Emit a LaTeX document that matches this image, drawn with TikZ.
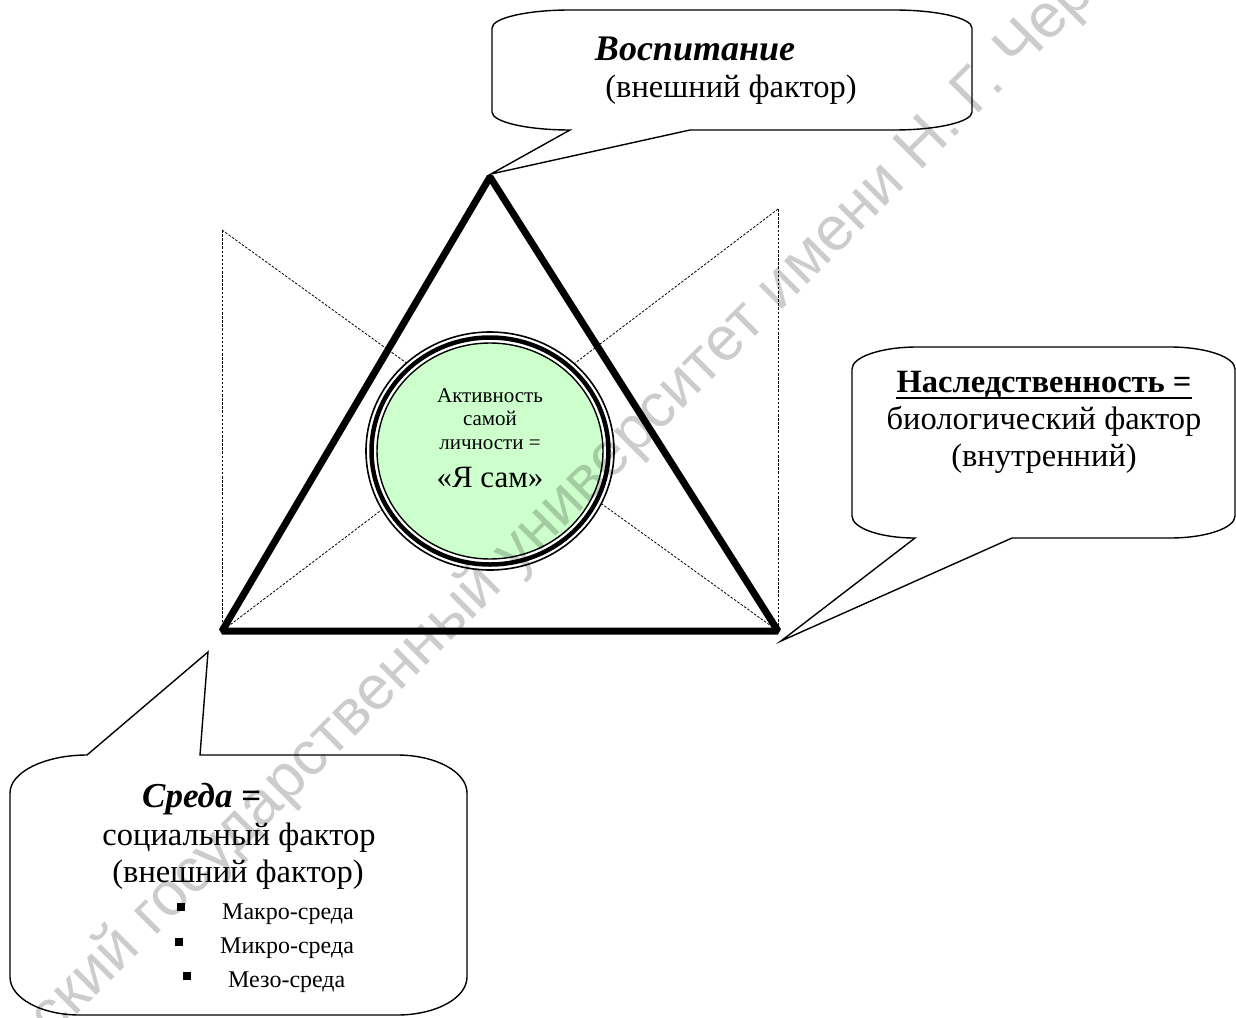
\documentclass[tikz,border=0pt]{standalone}
\usepackage{fontspec}
\setmainfont{Liberation Serif}
\newfontfamily\wmfont{Liberation Sans}
\usetikzlibrary{calc}
\definecolor{coregreen}{RGB}{204,255,204}
\begin{document}
\begin{tikzpicture}[x=1pt,y=-1pt,
  callout/.style={draw=black, line width=1.4pt, fill=white, line join=miter},
  dashline/.style={dash pattern=on 2.5pt off 1.6pt, line width=0.8pt},
  tri/.style={line width=7pt, line join=bevel},
  txt/.style={inner sep=0pt, anchor=base},
  big/.style={font=\fontsize{32.5}{38}\selectfont},
  small/.style={font=\fontsize{21}{25}\selectfont},
  item/.style={inner sep=0pt, anchor=base west, font=\fontsize{24}{28}\selectfont},
  bullet/.style={fill=black, rectangle, minimum size=7.5pt, inner sep=0pt}]
\useasboundingbox (0,0) rectangle (1236,1017);
% dashed guide lines
\coordinate (LT) at (222,230);
\coordinate (RT) at (778,209);
\coordinate (A) at (490,177);
\coordinate (B) at (222,631);
\coordinate (C) at (778,631);
\draw[dashline] (LT) -- (B);
\draw[dashline] (LT) -- (C);
\draw[dashline] (RT) -- (C);
\draw[dashline] (RT) -- (B);
% triangle
\draw[tri] (A) -- (B) -- (C) -- cycle;
% central circle
\filldraw[fill=white, draw=black, line width=1.6pt] (490,451) ellipse [x radius=124pt, y radius=119pt];
\draw[line width=4.5pt] (490,451) ellipse [x radius=118.5pt, y radius=113.5pt];
\filldraw[fill=coregreen, draw=black, line width=1.4pt] (490,451) ellipse [x radius=113pt, y radius=108pt];
\node[txt, small] (act1) at (490,402) {Активность};
\node[txt, small] (act2) at (490,425) {самой};
\node[txt, small] (act3) at (490,449) {личности =};
\node[txt, font=\fontsize{31}{36}\selectfont] (act4) at (490,487) {«Я сам»};
% top callout
\draw[callout] (570,10) -- (894,10) .. controls +(43,0) and +(0,-10) .. (972,28) -- (972,112)
  .. controls +(0,10) and +(43,0) .. (894,130) -- (690,130) -- (491,174) -- (570,130)
  .. controls +(-43,0) and +(0,10) .. (492,112) -- (492,28) .. controls +(0,-10) and +(-43,0) .. (570,10) -- cycle;
\node[txt, font=\fontsize{36}{42}\selectfont\bfseries\itshape] (vosp1) at (695,60) {Воспитание};
\node[txt, big] (vosp2) at (731,97) {(внешний фактор)};
% right callout
\draw[callout] (917,347) -- (1170,347) .. controls +(36,0) and +(0,-12) .. (1235,369) -- (1235,516)
  .. controls +(0,12) and +(36,0) .. (1170,538) -- (1012,538) -- (781,641) -- (915,538)
  .. controls +(-35,0) and +(0,12) .. (852,516) -- (852,369) .. controls +(0,-12) and +(-36,0) .. (917,347) -- cycle;
\node[txt, font=\fontsize{32.5}{38}\selectfont\bfseries] (nasl1) at (1044,392) {Наследственность =};
\draw[line width=2.8pt] ($(nasl1.base west)+(0,6)$) -- ($(nasl1.base east)+(0,6)$);
\node[txt, big] (nasl2) at (1044,429) {биологический фактор};
\node[txt, big] (nasl3) at (1044,466) {(внутренний)};
% left callout
\draw[callout] (87,755) -- (208,652) -- (200,755) -- (397,755) .. controls +(39,0) and +(0,-21) .. (467,793) -- (467,977)
  .. controls +(0,21) and +(39,0) .. (397,1015) -- (80,1015) .. controls +(-39,0) and +(0,21) .. (10,977)
  -- (10,793) .. controls +(0,-21) and +(-42,0) .. (87,755) -- cycle;
\node[txt, anchor=base west, font=\fontsize{35}{40}\selectfont\bfseries] (sreda1) at (142,807) {\textit{Среда} =};
\node[txt, big] (sreda2) at (239,845) {социальный фактор};
\node[txt, big] (sreda3) at (238,882) {(внешний фактор)};
\node[bullet] (b1) at (181,907) {};
\node[bullet] (b2) at (179,942) {};
\node[bullet] (b3) at (187,976) {};
\node[item] (m1) at (222,919) {Макро-среда};
\node[item] (m2) at (220,953) {Микро-среда};
\node[item] (m3) at (228,987) {Мезо-среда};
% watermark
\node[inner sep=0pt, rotate=45, anchor=base west, font=\wmfont\fontsize{62}{62}\selectfont, text=black, text opacity=0.2] (wm) at (52,1040) {ский государственный университет имени Н. Г. Черн};
\end{tikzpicture}
\end{document}
